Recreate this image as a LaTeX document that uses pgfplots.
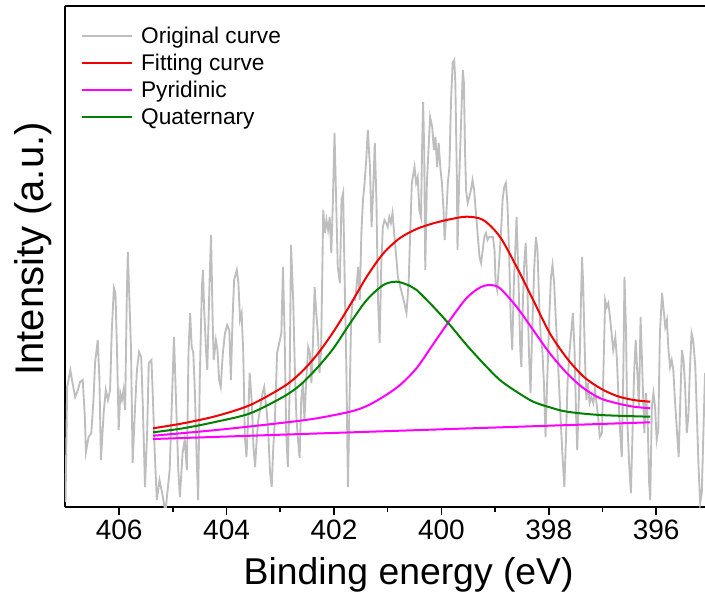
\documentclass[border=0pt]{standalone}
\usepackage{fontspec}
\setmainfont{Liberation Sans}
\usepackage{pgfplots}
\pgfplotsset{compat=1.18}
\definecolor{origgrey}{RGB}{190,190,190}
\definecolor{fitred}{RGB}{240,0,0}
\definecolor{pyrmag}{RGB}{255,0,255}
\definecolor{quatgreen}{RGB}{0,128,0}
\begin{document}
\begin{tikzpicture}
\begin{axis}[
  name=ax,
  scale only axis, width=480pt, height=375.75pt,
  x dir=reverse, xmin=395.09, xmax=407.01, ymin=0, ymax=501,
  axis x line*=box, axis y line*=left,
  xtick={396,398,400,402,404,406}, minor x tick num=1,
  xtick pos=bottom, xtick align=outside,
  major tick length=6pt, minor tick length=4pt,
  ytick=\empty,
  axis line style={line width=1.2pt},
  every tick/.style={black, line width=1.2pt},
  tick label style={font=\fontsize{21}{25}\selectfont},
  /pgf/number format/assume math mode=true,
  xlabel={Binding energy (eV)}, ylabel={Intensity (a.u.)},
  label style={font=\fontsize{28}{34}\selectfont},
  xlabel style={at={(axis description cs:0.537,0)}, anchor=center, yshift=-51pt},
  ylabel style={at={(axis description cs:0,0.515)}, anchor=center, yshift=24pt, font=\fontsize{30}{36}\selectfont},
  legend style={draw=none, fill=none, at={(axis description cs:0,1)}, anchor=north west,
    xshift=11.5pt, yshift=-13.25pt, font=\fontsize{17}{20}\selectfont,
    inner sep=0pt, row sep=2.6pt, column sep=4.5pt, nodes={inner sep=2pt}},
  legend cell align=left,
  legend image code/.code={\draw[#1] (0pt,0pt) -- (37.5pt,0pt);},
  no markers,
]
\addlegendimage{color=origgrey, line width=1.4pt}
\addlegendentry{Original curve}
\addlegendimage{color=fitred, line width=1.4pt}
\addlegendentry{Fitting curve}
\addlegendimage{color=pyrmag, line width=1.4pt}
\addlegendentry{Pyridinic}
\addlegendimage{color=quatgreen, line width=1.4pt}
\addlegendentry{Quaternary}
\addplot[color=origgrey, line width=1.4pt, forget plot] table {
407.00 5
406.97 120
406.91 137
406.88 127
406.82 110
406.77 117
406.73 125
406.68 127
406.64 90
406.62 55
406.57 70
406.52 74
406.48 107
406.45 144
406.40 167
406.37 130
406.34 47
406.29 94
406.25 117
406.21 107
406.17 117
406.14 174
406.10 219
406.07 214
406.04 154
406.01 77
405.98 114
405.95 107
405.92 117
405.89 97
405.86 207
405.84 255
405.81 207
405.78 157
405.75 44
405.71 94
405.67 137
405.63 155
405.59 150
405.56 100
405.52 20
405.48 74
405.45 144
405.40 147
405.38 120
405.34 57
405.30 7
405.25 27
405.20 14
405.14 -5
405.06 37
404.98 170
404.93 87
404.90 37
404.87 10
404.82 54
404.78 67
404.74 37
404.71 154
404.68 194
404.65 160
404.62 154
404.59 114
404.56 54
404.53 7
404.50 127
404.46 220
404.44 237
404.42 200
404.38 154
404.36 137
404.32 220
404.29 272
404.26 187
404.24 147
404.20 167
404.17 157
404.14 127
404.11 120
404.07 154
404.03 174
403.99 182
403.95 177
403.92 127
403.89 187
403.86 227
403.81 237
403.78 224
403.75 187
403.72 194
403.69 154
403.66 70
403.63 50
403.60 87
403.57 134
403.53 104
403.50 60
403.47 40
403.44 67
403.41 87
403.38 97
403.33 114
403.30 120
403.25 94
403.22 70
403.19 34
403.16 20
403.13 60
403.10 87
403.06 154
402.98 174
402.95 240
402.92 174
402.89 74
402.86 40
402.83 107
402.80 262
402.76 207
402.73 140
402.70 90
402.67 67
402.64 49
402.61 107
402.58 124
402.55 87
402.52 124
402.48 160
402.45 154
402.42 124
402.39 167
402.36 220
402.33 194
402.30 174
402.27 134
402.24 157
402.20 297
402.17 274
402.14 287
402.11 277
402.08 290
402.05 254
402.02 307
401.99 374
401.96 307
401.93 240
401.89 224
401.86 307
401.83 314
401.80 224
401.77 140
401.74 20
401.71 107
401.68 190
401.65 207
401.61 207
401.58 220
401.55 240
401.52 207
401.49 274
401.46 307
401.43 324
401.40 347
401.37 377
401.33 340
401.30 280
401.27 317
401.24 364
401.21 307
401.18 207
401.15 164
401.12 240
401.09 280
401.06 287
401.03 284
401.00 280
400.97 290
400.94 284
400.91 294
400.88 274
400.84 250
400.81 230
400.75 217
400.69 204
400.65 194
400.61 224
400.58 274
400.55 324
400.50 340
400.47 324
400.44 330
400.41 297
400.38 290
400.36 357
400.34 405
400.32 357
400.30 237
400.27 324
400.24 357
400.21 390
400.17 380
400.14 357
400.11 370
400.08 340
400.05 364
400.02 340
399.99 324
399.96 297
399.94 267
399.91 290
399.88 324
399.85 340
399.82 407
399.79 444
399.76 447
399.74 424
399.71 324
399.70 257
399.67 324
399.63 390
399.60 437
399.58 424
399.56 357
399.54 317
399.51 304
399.48 310
399.45 317
399.42 327
399.39 317
399.35 290
399.32 270
399.29 250
399.26 244
399.23 257
399.20 270
399.17 274
399.14 267
399.11 270
399.04 270
399.01 257
398.99 224
398.96 217
398.93 240
398.89 274
398.86 307
398.83 320
398.80 324
398.77 304
398.74 257
398.71 190
398.68 157
398.65 224
398.61 274
398.60 290
398.57 240
398.53 157
398.51 140
398.49 190
398.46 240
398.43 264
398.40 224
398.37 157
398.34 114
398.31 174
398.27 240
398.24 270
398.21 257
398.18 207
398.15 170
398.12 157
398.09 124
398.06 70
398.03 124
397.99 190
397.96 230
397.93 242
397.90 224
397.87 190
397.84 157
397.81 124
397.78 90
397.75 57
397.71 20
397.68 67
397.65 124
397.62 150
397.59 170
397.55 194
397.52 157
397.49 90
397.47 57
397.44 107
397.40 207
397.38 250
397.36 224
397.33 157
397.30 107
397.27 124
397.24 104
397.21 110
397.17 104
397.14 117
397.11 104
397.08 90
397.05 70
397.01 74
396.98 140
396.95 207
396.92 200
396.89 204
396.86 190
396.83 174
396.80 157
396.76 170
396.73 147
396.70 107
396.67 74
396.64 50
396.61 140
396.59 230
396.56 174
396.54 90
396.50 40
396.47 14
396.44 74
396.41 134
396.38 167
396.35 134
396.32 100
396.29 190
396.26 140
396.22 74
396.19 114
396.16 90
396.13 24
396.11 7
396.08 100
396.05 114
396.02 100
395.99 67
395.96 77
395.93 174
395.89 214
395.86 197
395.83 180
395.80 187
395.77 157
395.74 140
395.71 147
395.68 137
395.65 107
395.61 74
395.58 50
395.55 107
395.52 157
395.49 147
395.46 120
395.43 74
395.40 90
395.37 140
395.34 174
395.31 167
395.27 140
395.24 90
395.21 40
395.18 4
395.15 14
395.12 74
395.09 134
};
\addplot[color=fitred, line width=1.5pt, smooth, forget plot] table {
405.37 78.7
404.81 83.7
404.19 91
403.56 102
402.94 120.3
402.63 133.7
402.32 152
402.01 175.3
401.70 202
401.39 230.3
401.08 253.7
400.77 269
400.46 278
400.15 283.7
399.84 287.7
399.53 290.3
399.22 287
398.91 270.3
398.60 240.3
398.29 207
397.98 173.7
397.66 148.7
397.35 130.3
397.04 118.7
396.73 111
396.42 107
396.11 105.3
};
\addplot[color=pyrmag, line width=1.5pt, smooth, forget plot] table {
405.37 71.3
404.19 77
402.94 84.3
402.32 88.7
401.70 95.3
401.39 101
401.08 110.3
400.77 122
400.46 139
400.15 163
399.84 187
399.53 209
399.28 219.5
399.09 222
398.91 218.7
398.60 200.3
398.29 177
397.98 153.7
397.66 133.7
397.35 118.7
397.04 108.7
396.73 103.7
396.42 100.3
396.11 98.7
};
\addplot[color=quatgreen, line width=1.5pt, smooth, forget plot] table {
405.37 74.7
404.81 78.7
404.19 85.3
403.56 93.7
402.94 110.3
402.63 122
402.32 138.7
402.01 158.7
401.70 183.7
401.39 207
401.08 222
400.83 225.3
400.58 221
400.46 217
400.15 200.3
399.84 182
399.53 162
399.22 143.7
398.91 127
398.60 115.3
398.29 105.3
397.98 99.7
397.66 95.3
397.04 92
396.11 90.3
};
\addplot[color=pyrmag, line width=1.5pt, forget plot] table {
405.37 68
400.77 76.3
396.11 84.7
};
\end{axis}
\pgfresetboundingbox
\path[use as bounding box] ([xshift=-48.75pt,yshift=-72.75pt]ax.south west) rectangle ([yshift=4.5pt]ax.north east);
\end{tikzpicture}
\end{document}
